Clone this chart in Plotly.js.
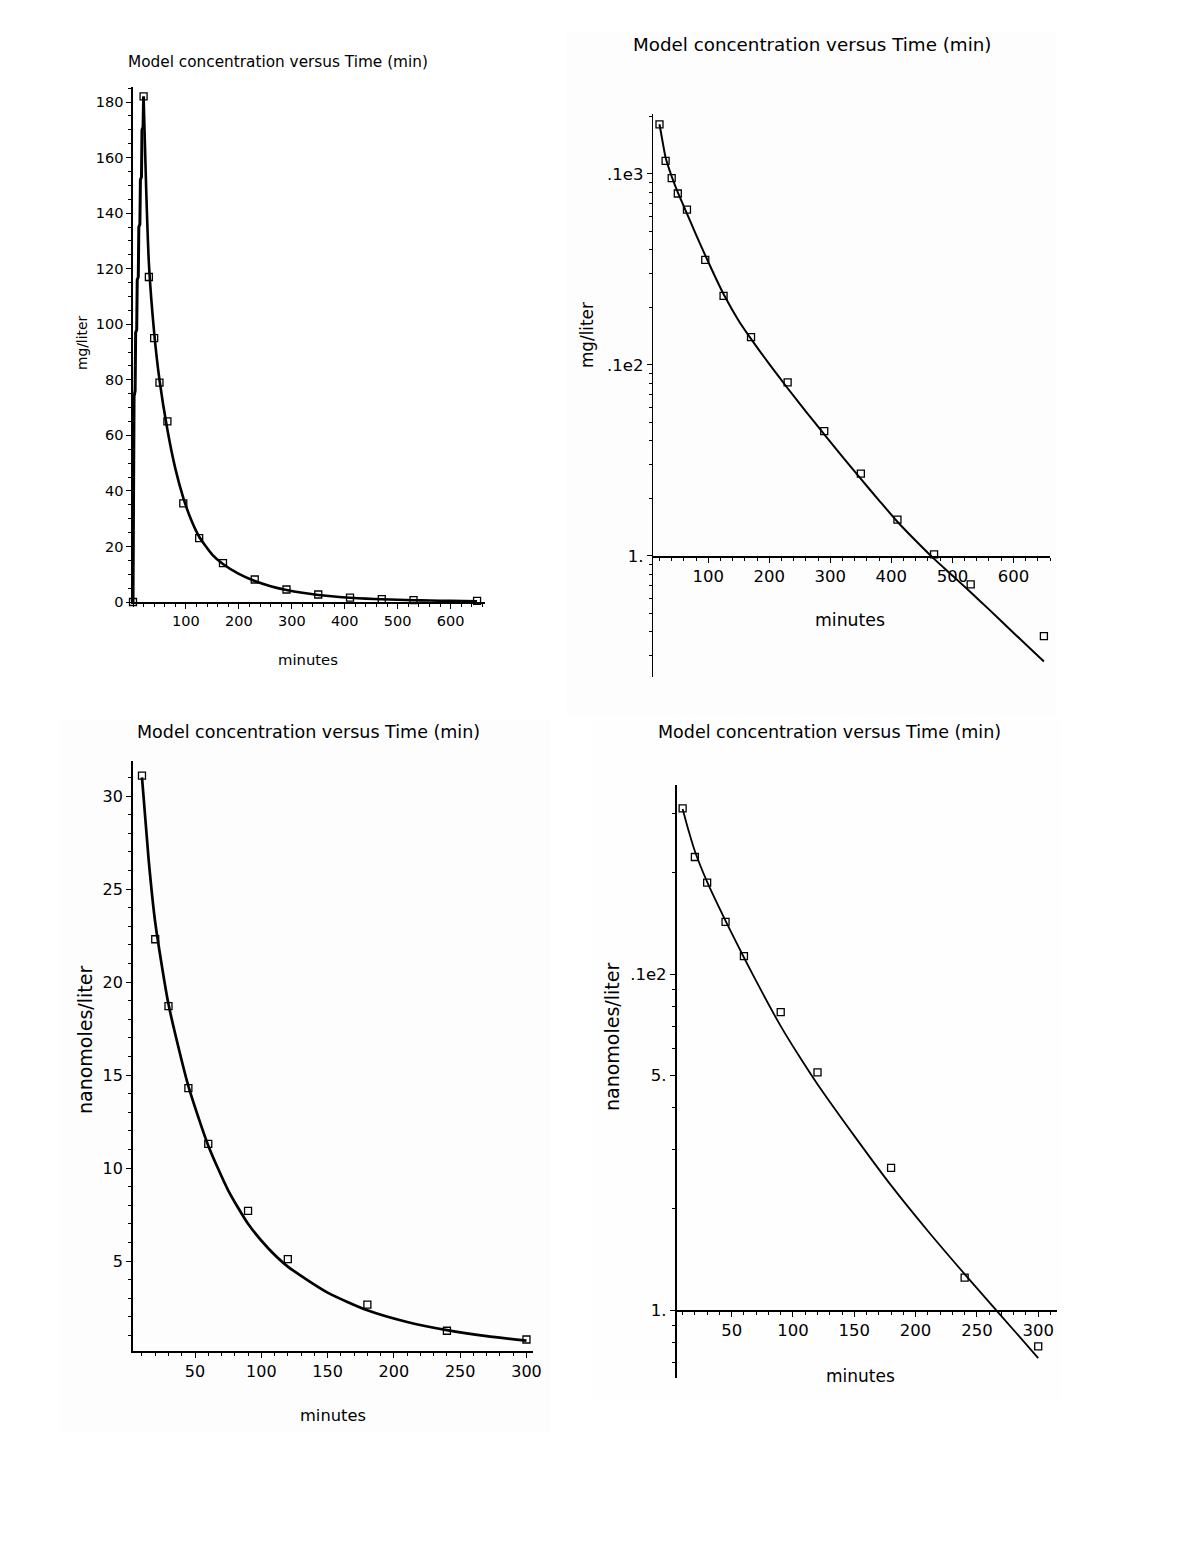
<!DOCTYPE html>
<html>
<head>
<meta charset="utf-8">
<script src="https://cdn.plot.ly/plotly-3.0.1.min.js"></script>
<style>
  html, body { margin: 0; padding: 0; background: #fff; }
  #plot { width: 1197px; height: 1549px; }
</style>
</head>
<body>
<div id="plot"></div>
<script>
// sampled data, first drug (mg/liter)
const drugTimes = [0, 20, 30, 40, 50, 65, 95, 125, 170, 230, 290, 350, 410, 470, 530, 650];
const drugConc = [0, 182, 117, 95, 79, 65, 35.5, 23, 14, 8.1, 4.5, 2.7, 1.55, 1.02, 0.71, 0.38];

// fitted model curve
const drugModelT = [0, 1, 2, 4, 5, 7, 8, 10, 11, 13, 14, 16, 17, 19, 20, 25, 30, 40, 50, 65, 80, 95, 110, 125,
  150, 170, 200, 230, 260, 290, 320, 350, 380, 410, 440, 470, 500, 530, 560, 600, 650];
const drugModelC = [0, 45, 74, 76, 97, 98, 116, 117, 135, 136, 152, 153, 170, 171, 182, 148, 122, 97, 80, 62, 48, 37.5, 29.5, 23.5,
  17, 13.7, 10.1, 7.55, 5.7, 4.33, 3.3, 2.53, 1.95, 1.51, 1.2, 0.965, 0.79, 0.645, 0.525, 0.396, 0.28];

// second series (nanomoles/liter)
const nmTimes = [10, 20, 30, 45, 60, 90, 120, 180, 240, 300];
const nmConc = [31.1, 22.3, 18.7, 14.3, 11.3, 7.7, 5.1, 2.65, 1.25, 0.78];
const nmModelT = [10, 15, 20, 30, 45, 60, 75, 90, 105, 120, 150, 180, 210, 240, 270, 300];
const nmModelC = [31.0, 26.6, 23.2, 18.8, 14.4, 11.2, 8.8, 7.0, 5.7, 4.7, 3.3, 2.35, 1.72, 1.28, 0.96, 0.72];

// tick labels
const p1YTicks = [0, 20, 40, 60, 80, 100, 120, 140, 160, 180];
const p1XTicks = [100, 200, 300, 400, 500, 600];
const p2YTicks = [1, 10, 100];
const p2YText = ['1.', '.1e2', '.1e3'];
const p3YTicks = [5, 10, 15, 20, 25, 30];
const p3XTicks = [50, 100, 150, 200, 250, 300];
const p4YTicks = [1, 5, 10];
const p4YText = ['1.', '5.', '.1e2'];

const titleText = 'Model concentration versus Time (min)';
const FONT = 'DejaVu Sans, Liberation Sans, Arial, sans-serif';

const W = 1197, H = 1549;
const fx = p => p / W;
const fy = p => 1 - p / H;

// log panels only get positive samples
const firstPos = drugTimes.findIndex((t, i) => drugConc[i] > 0);
const peakIdx = drugModelT.indexOf(20);

const lineTrace = (x, y, ax, w, shape) => ({
  x: x, y: y, xaxis: 'x' + ax, yaxis: 'y' + ax,
  mode: 'lines', line: {color: '#000', width: w, shape: shape || 'linear', smoothing: 0.6}, hoverinfo: 'skip'
});
const pointTrace = (x, y, ax) => ({
  x: x, y: y, xaxis: 'x' + ax, yaxis: 'y' + ax,
  mode: 'markers', cliponaxis: false,
  marker: {symbol: 'square-open', size: 7, color: '#000', line: {width: 1.3, color: '#000'}}
});

const data = [
  lineTrace(drugModelT.slice(0, peakIdx + 1), drugModelC.slice(0, peakIdx + 1), '', 3),
  lineTrace(drugModelT.slice(peakIdx), drugModelC.slice(peakIdx), '', 2.6, 'spline'),
  pointTrace(drugTimes, drugConc, ''),
  lineTrace(drugModelT.slice(peakIdx), drugModelC.slice(peakIdx), '2', 2, 'spline'),
  pointTrace(drugTimes.slice(firstPos), drugConc.slice(firstPos), '2'),
  lineTrace(nmModelT, nmModelC, '3', 2.7, 'spline'),
  pointTrace(nmTimes, nmConc, '3'),
  lineTrace(nmModelT, nmModelC, '4', 1.8, 'spline'),
  pointTrace(nmTimes, nmConc, '4')
];

const baseAxis = (size) => ({
  showgrid: false, zeroline: false, showline: true, linecolor: '#000', linewidth: 1.6,
  ticks: 'outside', ticklen: 5, tickwidth: 1, tickcolor: '#000',
  tickfont: {family: FONT, size: size, color: '#000'},
  fixedrange: true
});

var layout = {
  width: W, height: H,
  margin: {l: 0, r: 0, t: 0, b: 0},
  paper_bgcolor: '#fff',
  plot_bgcolor: 'rgba(0,0,0,0)',
  showlegend: false,
  // panel 1: linear mg/liter
  xaxis: Object.assign(baseAxis(14.5), {
    domain: [fx(133), fx(485)], range: [0, 665], anchor: 'y',
    tickmode: 'array', tickvals: p1XTicks, ticktext: p1XTicks.map(String),
    minor: {tickmode: 'linear', tick0: 0, dtick: 20, ticks: 'outside', ticklen: 3, tickcolor: '#000'}
  }),
  yaxis: Object.assign(baseAxis(14.5), {
    domain: [fy(602), fy(87)], range: [0, 185.4], anchor: 'x',
    tickmode: 'array', tickvals: p1YTicks, ticktext: p1YTicks.map(String),
    minor: {tickmode: 'linear', tick0: 0, dtick: 5, ticks: 'outside', ticklen: 3, tickcolor: '#000'}
  }),
  // panel 2: log mg/liter
  xaxis2: Object.assign(baseAxis(16.5), {
    domain: [fx(653.4), fx(1050)], range: [10, 660], anchor: 'free', position: fy(556),
    tickmode: 'array', tickvals: p1XTicks, ticktext: p1XTicks.map(String),
    minor: {tickmode: 'linear', tick0: 0, dtick: 20, ticks: 'outside', ticklen: 3, tickcolor: '#000'}
  }),
  yaxis2: Object.assign(baseAxis(16.5), {
    type: 'log', domain: [fy(677), fy(114)], range: [-0.634, 2.314], anchor: 'x2',
    tickmode: 'array', tickvals: p2YTicks, ticktext: p2YText,
    minor: {tickmode: 'array', tickvals: [0.3, 0.4, 0.5, 0.6, 0.7, 0.8, 0.9, 2, 3, 4, 5, 6, 7, 8, 9,
      20, 30, 40, 50, 60, 70, 80, 90, 200], ticks: 'outside', ticklen: 3, tickcolor: '#000'}
  }),
  // panel 3: linear nanomoles/liter
  xaxis3: Object.assign(baseAxis(16), {
    domain: [fx(132.7), fx(533.1)], range: [3, 305], anchor: 'y3',
    tickmode: 'array', tickvals: p3XTicks, ticktext: p3XTicks.map(String),
    minor: {tickmode: 'linear', tick0: 0, dtick: 10, ticks: 'outside', ticklen: 3, tickcolor: '#000'}
  }),
  yaxis3: Object.assign(baseAxis(16), {
    domain: [fy(1351.2), fy(760.7)], range: [0.15, 31.9], anchor: 'x3',
    tickmode: 'array', tickvals: p3YTicks, ticktext: p3YTicks.map(String),
    minor: {tickmode: 'linear', tick0: 0, dtick: 1, ticks: 'outside', ticklen: 3, tickcolor: '#000'}
  }),
  // panel 4: log nanomoles/liter
  xaxis4: Object.assign(baseAxis(16.5), {
    domain: [fx(676.5), fx(1056.6)], range: [5, 315], anchor: 'free', position: fy(1310),
    tickmode: 'array', tickvals: p3XTicks, ticktext: p3XTicks.map(String),
    minor: {tickmode: 'linear', tick0: 0, dtick: 10, ticks: 'outside', ticklen: 3, tickcolor: '#000'}
  }),
  yaxis4: Object.assign(baseAxis(16.5), {
    type: 'log', domain: [fy(1378), fy(785)], range: [-0.202, 1.5625], anchor: 'x4',
    tickmode: 'array', tickvals: p4YTicks, ticktext: p4YText,
    minor: {tickmode: 'array', tickvals: [0.7, 0.8, 0.9, 2, 3, 4, 6, 7, 8, 9, 20, 30],
      ticks: 'outside', ticklen: 3, tickcolor: '#000'}
  }),
  shapes: [
    {type: 'rect', xref: 'paper', yref: 'paper', layer: 'below', line: {width: 0},
      fillcolor: '#fdfdfd', x0: fx(566), x1: fx(1056), y0: fy(715), y1: fy(32)},
    {type: 'rect', xref: 'paper', yref: 'paper', layer: 'below', line: {width: 0},
      fillcolor: '#fdfdfd', x0: fx(60), x1: fx(550), y0: fy(1432), y1: fy(720)},
    {type: 'rect', xref: 'paper', yref: 'paper', layer: 'below', line: {width: 0},
      fillcolor: '#fefefe', x0: fx(592), x1: fx(1062), y0: fy(1400), y1: fy(720)}
  ],
  annotations: []
};

const addText = (text, x, y, size, angle) => {
  layout.annotations.push({
    text: text, xref: 'paper', yref: 'paper', x: fx(x), y: fy(y),
    xanchor: 'center', yanchor: 'middle', showarrow: false, textangle: angle || 0,
    font: {family: FONT, size: size, color: '#000'}
  });
};

// chart titles
addText(titleText, 278, 62, 15.3);
addText(titleText, 812, 45, 18.3);
addText(titleText, 308, 732, 17.5);
addText(titleText, 829, 732, 17.5);
// axis titles
addText('minutes', 308, 660, 14.8);
addText('minutes', 850, 620, 17.3);
addText('minutes', 333, 1415, 16.3);
addText('minutes', 860, 1376, 17);
addText('mg/liter', 82, 343, 13.8, -90);
addText('mg/liter', 587, 335, 16.8, -90);
addText('nanomoles/liter', 85, 1040, 19, -90);
addText('nanomoles/liter', 612, 1037, 19, -90);

var config = {responsive: false, displayModeBar: false, staticPlot: true};

Plotly.newPlot('plot', data, layout, config);
</script>
</body>
</html>
